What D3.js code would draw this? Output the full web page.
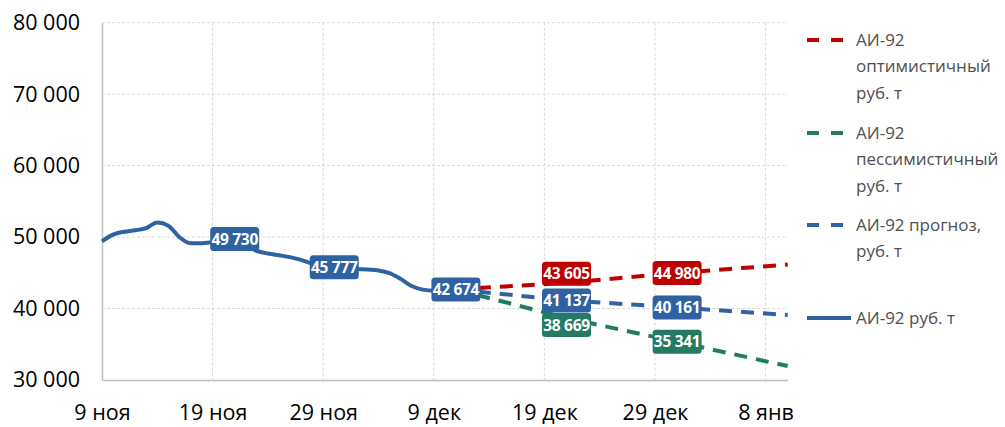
<!DOCTYPE html>
<html>
<head>
<meta charset="utf-8">
<script src="https://cdn.jsdelivr.net/npm/d3@7"></script>
<style>
  body { margin: 0; background: #fff; }
  text { font-family: "Open Sans", sans-serif; }
</style>
</head>
<body>
<script>
// actual prices, АИ-92 руб. т
var actualDates = ['2023-11-09','2023-11-10','2023-11-11','2023-11-12','2023-11-13','2023-11-14','2023-11-15','2023-11-16',
                   '2023-11-17','2023-11-18','2023-11-19','2023-11-21','2023-11-23','2023-11-24','2023-11-25','2023-11-26',
                   '2023-11-27','2023-11-28','2023-11-30','2023-12-02','2023-12-03','2023-12-04','2023-12-05','2023-12-06',
                   '2023-12-07','2023-12-08','2023-12-09','2023-12-11']
var actualValues = [49400, 50350, 50750, 50950, 51250, 52050, 51600, 50000,
                    49150, 49150, 49300, 49730, 48050, 47700, 47450, 47200,
                    46800, 46300, 45777, 45550, 45450, 45330, 44950, 44150,
                    43150, 42650, 42500, 42674]

// forecasts start from the last actual point
var forecastDates = ['2023-12-11', '2023-12-21', '2023-12-31', '2024-01-10']
var optimisticValues = [42674, 43605, 44980, 46150]
var pessimisticValues = [42674, 38669, 35341, 31950]
var forecastValues = [42674, 41137, 40161, 39100]

var labelledActual = ['2023-11-21', '2023-11-30', '2023-12-11']
var labelledForecast = ['2023-12-21', '2023-12-31']

var tickDates = ['2023-11-09','2023-11-19','2023-11-29','2023-12-09','2023-12-19','2023-12-29','2024-01-08']
var tickLabels = ['9 ноя', '19 ноя', '29 ноя', '9 дек', '19 дек', '29 дек', '8 янв']
var yTicks = [30000, 40000, 50000, 60000, 70000, 80000]

var seriesNames = ['АИ-92 оптимистичный руб. т', 'АИ-92 пессимистичный руб. т', 'АИ-92 прогноз, руб. т', 'АИ-92 руб. т']

var red = '#c00000', green = '#237b63', blue = '#2f62a2'
var width = 1005, height = 427
var padL = 102, padR = 787.7, padT = 22.7, padB = 380

var parse = d3.timeParse('%Y-%m-%d')
var fmt = d3.format(',')
function num(v) { return fmt(v).replace(/,/g, ' ') }

var svg = d3.select('body').append('svg').attr('width', width).attr('height', height)

var x = d3.scaleTime().domain([parse('2023-11-09'), parse('2024-01-10')]).range([padL, padR])
var y = d3.scaleLinear().domain([30000, 80000]).range([padB, padT])

// grid
svg.append('g').selectAll('line').data(yTicks.slice(1)).enter().append('line')
   .attr('x1', padL).attr('x2', padR)
   .attr('y1', d => y(d)).attr('y2', d => y(d))
   .attr('stroke', '#d9d9d9').attr('stroke-width', 1).attr('stroke-dasharray', '3,2')
svg.append('g').selectAll('line').data(tickDates.slice(1)).enter().append('line')
   .attr('x1', d => x(parse(d))).attr('x2', d => x(parse(d)))
   .attr('y1', padT).attr('y2', padB)
   .attr('stroke', '#d9d9d9').attr('stroke-width', 1).attr('stroke-dasharray', '3,2')

// axes
var yAxis = d3.axisLeft(y).tickValues(yTicks).tickSize(0).tickPadding(22).tickFormat(num)
var gy = svg.append('g').attr('transform', 'translate(' + padL + ',0)').call(yAxis)
gy.select('.domain').attr('stroke', '#bfbfbf').attr('stroke-width', 1.5)
gy.selectAll('text').attr('font-size', 21.5).attr('fill', '#000').style('font-family', '"Open Sans", sans-serif')

var xAxis = d3.axisBottom(x).tickValues(tickDates.map(parse)).tickSize(0).tickPadding(25)
              .tickFormat((d, i) => tickLabels[i])
var gx = svg.append('g').attr('transform', 'translate(0,' + padB + ')').call(xAxis)
gx.select('.domain').attr('stroke', '#bfbfbf').attr('stroke-width', 1.5)
gx.selectAll('text').attr('font-size', 21.5).attr('fill', '#000').style('font-family', '"Open Sans", sans-serif')

// lines
var smooth = d3.line().x(d => x(d.date)).y(d => y(d.val)).curve(d3.curveMonotoneX)
var straight = d3.line().x(d => x(d.date)).y(d => y(d.val))

function pairs(dates, vals) { return dates.map((d, i) => ({date: parse(d), key: d, val: vals[i]})) }

var actual = pairs(actualDates, actualValues)
var series = [
  {data: pairs(forecastDates, optimisticValues), color: red, dy: {'2023-12-21': -9}},
  {data: pairs(forecastDates, pessimisticValues), color: green, dy: {'2023-12-21': 7}},
  {data: pairs(forecastDates, forecastValues), color: blue, dy: {}}
]

series.forEach(s => {
  svg.append('path').attr('d', straight(s.data))
     .attr('fill', 'none').attr('stroke', s.color).attr('stroke-width', 4)
     .attr('stroke-dasharray', '13,9')
})
svg.append('path').attr('d', smooth(actual))
   .attr('fill', 'none').attr('stroke', blue).attr('stroke-width', 4).attr('stroke-linejoin', 'round')

// data labels
function label(p, color, dy) {
  var g = svg.append('g').attr('transform', 'translate(' + x(p.date) + ',' + (y(p.val) + (dy || 0)) + ')')
  g.append('rect').attr('x', -24.5).attr('y', -12).attr('width', 49).attr('height', 24)
   .attr('rx', 3.5).attr('fill', color)
  g.append('text').attr('text-anchor', 'middle').attr('dy', '0.36em')
   .attr('font-size', 15.5).attr('font-weight', 'bold').attr('fill', '#fff')
   .attr('letter-spacing', -0.3)
   .text(num(p.val))
}
actual.filter(p => labelledActual.includes(p.key)).forEach(p => label(p, blue, 0))
series.forEach(s => s.data.filter(p => labelledForecast.includes(p.key))
                          .forEach(p => label(p, s.color, s.dy[p.key])))

// legend
var legend = [
  {name: seriesNames[0], color: red, dash: true, y: 40, lines: ['АИ-92', 'оптимистичный', 'руб. т']},
  {name: seriesNames[1], color: green, dash: true, y: 133, lines: ['АИ-92', 'пессимистичный', 'руб. т']},
  {name: seriesNames[2], color: blue, dash: true, y: 225, lines: ['АИ-92 прогноз,', 'руб. т']},
  {name: seriesNames[3], color: blue, dash: false, y: 318, lines: ['АИ-92 руб. т']}
]
var lg = svg.append('g')
legend.forEach(l => {
  lg.append('line').attr('x1', 807).attr('x2', l.dash ? 843 : 851).attr('y1', l.y).attr('y2', l.y)
    .attr('stroke', l.color).attr('stroke-width', 4)
    .attr('stroke-dasharray', l.dash ? '12,12' : null)
  var t = lg.append('text').attr('x', 856).attr('y', l.y).attr('font-size', 17).attr('fill', '#505050')
  l.lines.forEach((s, i) => t.append('tspan').attr('x', 856).attr('y', l.y + i * 26.5).attr('dy', '0.35em').text(s))
})
</script>
</body>
</html>
